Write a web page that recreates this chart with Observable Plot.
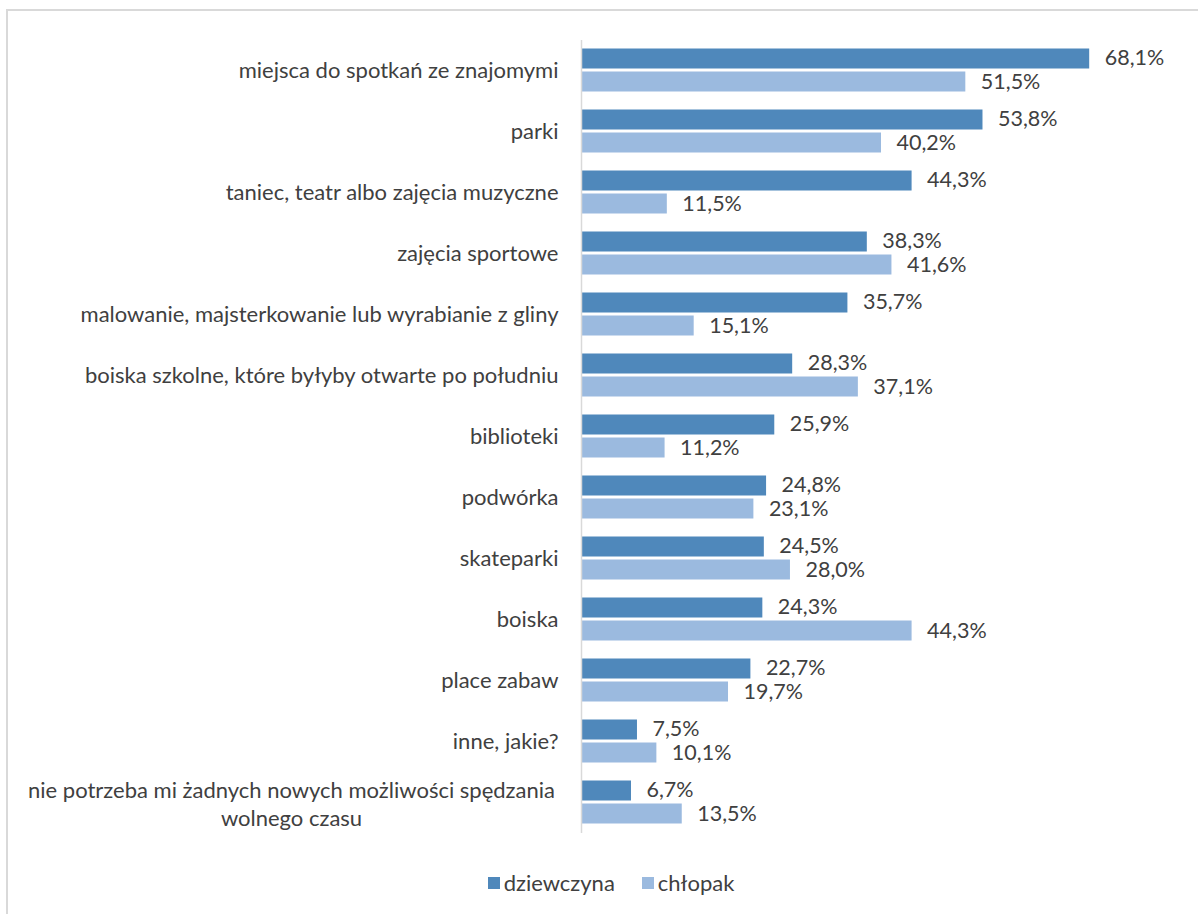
<!DOCTYPE html>
<html>
<head>
<meta charset="utf-8">
<script src="https://cdn.jsdelivr.net/npm/d3@7"></script>
<script src="https://cdn.jsdelivr.net/npm/@observablehq/plot@0.6"></script>
<style>
  html, body { margin: 0; padding: 0; background: #fff; overflow: hidden; }
  body { width: 1198px; height: 914px; position: relative; font-family: Lato, "Noto Sans", sans-serif; }
  #frame { position: absolute; left: 6px; top: 9px; width: 1400px; height: 1200px; border: 2px solid #d9d9d9; box-sizing: border-box; }
  #chart { position: absolute; left: 0; top: 0; }
  #legend { position: absolute; left: 0; top: 869px; width: 1222px; display: flex; justify-content: center; gap: 27px; font-size: 22px; color: #404040; }
  .item { display: flex; align-items: center; gap: 4px; }
  .sw { width: 12px; height: 12px; display: inline-block; }
</style>
</head>
<body>
<div id="frame"></div>
<div id="chart"></div>
<div id="legend"></div>
<script>
const categories = [
  "miejsca do spotkań ze znajomymi",
  "parki",
  "taniec, teatr albo zajęcia muzyczne",
  "zajęcia sportowe",
  "malowanie, majsterkowanie lub wyrabianie z gliny",
  "boiska szkolne, które byłyby otwarte po południu",
  "biblioteki",
  "podwórka",
  "skateparki",
  "boiska",
  "place zabaw",
  "inne, jakie?",
  "nie potrzeba mi żadnych nowych możliwości spędzania wolnego czasu"
];
const seriesNames = ["dziewczyna", "chłopak"];
const dziewczyna = [68.1, 53.8, 44.3, 38.3, 35.7, 28.3, 25.9, 24.8, 24.5, 24.3, 22.7, 7.5, 6.7];
const chlopak    = [51.5, 40.2, 11.5, 41.6, 15.1, 37.1, 11.2, 23.1, 28.0, 44.3, 19.7, 10.1, 13.5];
const colors = ["#4f88bb", "#9bbadf"];

const data = [];
categories.forEach((c, i) => {
  data.push({category: c, series: seriesNames[0], value: dziewczyna[i]});
  data.push({category: c, series: seriesNames[1], value: chlopak[i]});
});
const fmt = v => v.toFixed(1).replace(".", ",") + "%";

const longLabel = categories[categories.length - 1];
const shortLabels = categories.slice(0, -1).map(c => ({category: c}));
const wrapped = [{category: longLabel, text: "nie potrzeba mi żadnych nowych możliwości spędzania\nwolnego czasu"}];

const chart = Plot.plot({
  width: 1198,
  height: 850,
  marginLeft: 581,
  marginRight: 20,
  marginTop: 39.5,
  marginBottom: 17.5,
  style: {fontFamily: "Lato, 'Noto Sans', sans-serif", fontSize: "22px", color: "#404040", background: "transparent"},
  x: {domain: [0, 80], axis: null},
  fy: {domain: categories, padding: 0, axis: null},
  y: {domain: seriesNames, paddingInner: 0.13, paddingOuter: 0.391, axis: null},
  color: {domain: seriesNames, range: colors},
  marks: [
    Plot.barX(data, {x: "value", y: "series", fy: "category", fill: "series"}),
    Plot.ruleX([0], {stroke: "#d9d9d9", strokeWidth: 1.5}),
    Plot.text(data.filter(d => d.series === seriesNames[0]), {x: "value", y: "series", fy: "category", text: d => fmt(d.value), textAnchor: "start", dx: 15, dy: -0.5, fill: "#404040", fontSize: 21.5}),
    Plot.text(data.filter(d => d.series === seriesNames[1]), {x: "value", y: "series", fy: "category", text: d => fmt(d.value), textAnchor: "start", dx: 15, dy: 0.5, fill: "#404040", fontSize: 21.5}),
    Plot.text(shortLabels, {fy: "category", x: 0, text: "category", textAnchor: "end", dx: -23, fill: "#404040", fontSize: 22}),
    Plot.text(wrapped, {fy: "category", x: 0, text: "text", textAnchor: "middle", dx: -290, fill: "#404040", fontSize: 22, lineHeight: 1.25})
  ]
});
document.getElementById("chart").appendChild(chart);

const legend = document.getElementById("legend");
seriesNames.forEach((s, i) => {
  const it = document.createElement("div");
  it.className = "item";
  it.innerHTML = `<span class="sw" style="background:${colors[i]}"></span><span>${s}</span>`;
  legend.appendChild(it);
});
</script>
</body>
</html>
